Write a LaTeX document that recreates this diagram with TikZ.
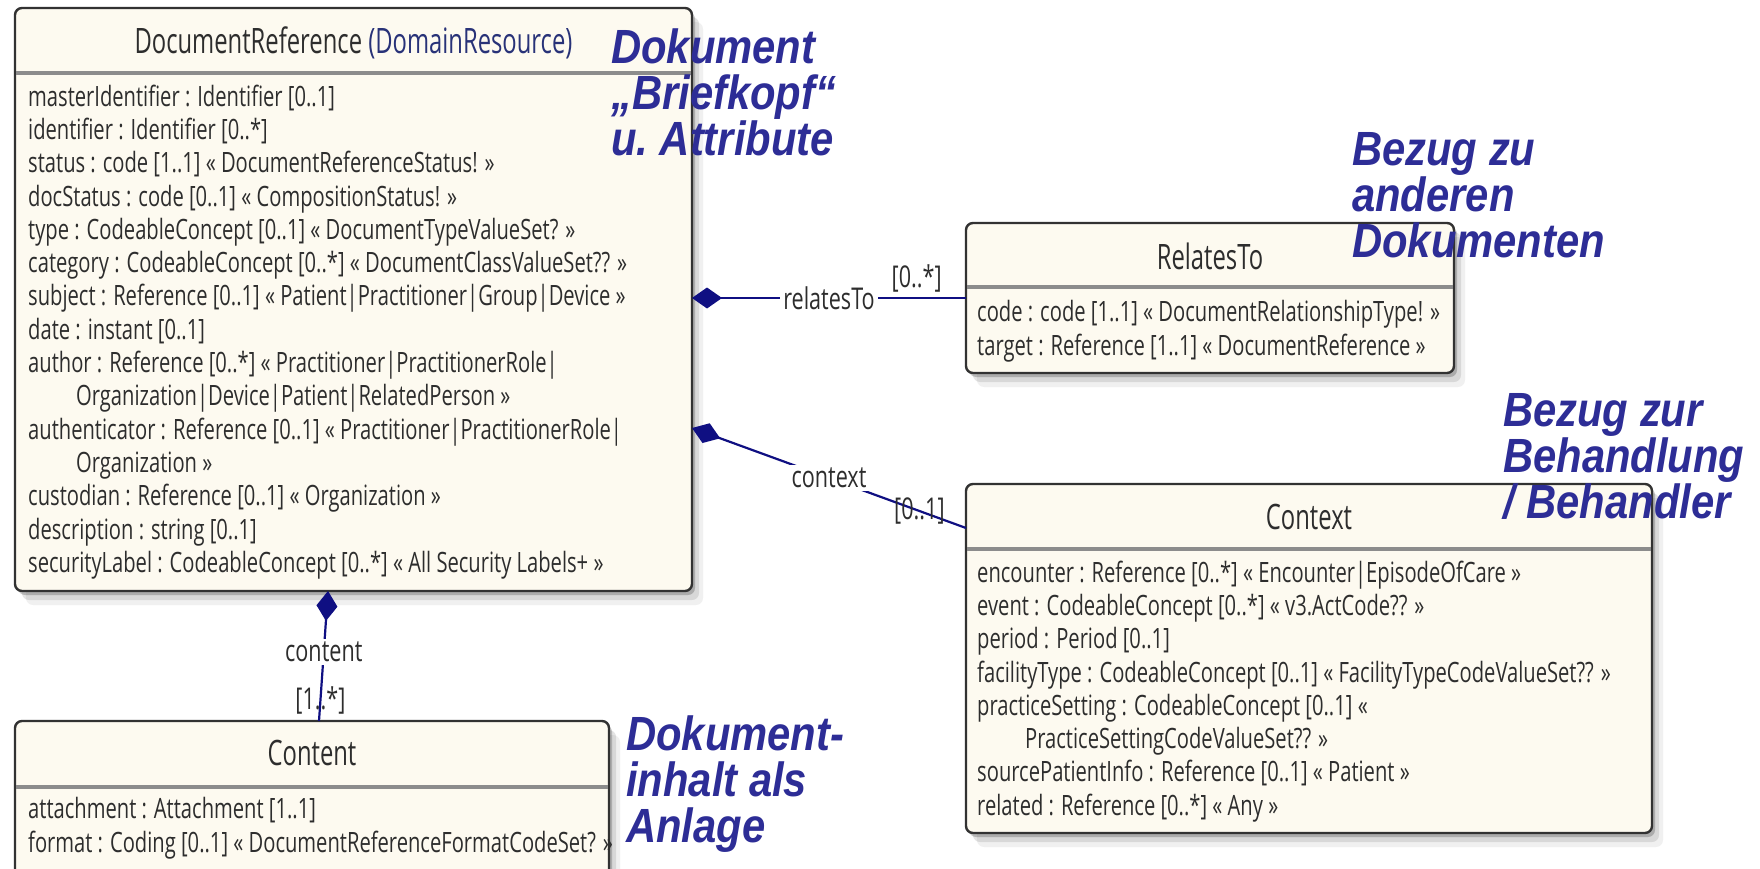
\documentclass[tikz,border=0pt]{standalone}
\usepackage{fontspec}
\usetikzlibrary{arrows.meta,calc,shadows}
\newfontfamily\umlfont[FakeStretch=0.72]{Open Sans}
\newfontfamily\titlefont[FakeStretch=0.68]{Open Sans}
\newfontfamily\notefont[FakeStretch=0.87]{Liberation Sans}
\definecolor{boxfill}{RGB}{253,250,240}
\definecolor{boxline}{RGB}{50,50,50}
\definecolor{sepgray}{RGB}{140,140,140}
\definecolor{textgray}{RGB}{45,45,45}
\definecolor{supercol}{RGB}{40,50,120}
\definecolor{assoccol}{RGB}{15,15,130}
\definecolor{notecol}{RGB}{45,45,150}
\begin{document}
\begin{tikzpicture}[
x=1pt,y=-1pt,
umlclass/.style={draw=boxline,line width=2.4pt,fill=boxfill,rounded corners=7pt,
	anchor=north west,inner sep=0pt,outer sep=0pt,
	drop shadow={shadow xshift=3pt,shadow yshift=-4pt,opacity=.3,fill=black!70},
	drop shadow={shadow xshift=7pt,shadow yshift=-9pt,opacity=.15,fill=black!70},
	drop shadow={shadow xshift=11pt,shadow yshift=-14pt,opacity=.08,fill=black!70}},
umltitle/.style={font=\titlefont\fontsize{35}{40}\selectfont,text=textgray,anchor=base,inner sep=0pt},
umlattrs/.style={font=\umlfont\fontsize{28}{33.3}\selectfont,text=textgray,align=left,
	anchor=north west,inner sep=0pt},
separator/.style={draw=sepgray,line width=3.2pt},
assoc/.style={draw=assoccol,line width=2.2pt,arrows={Diamond[length=30pt,width=21pt]-}},
rolename/.style={font=\umlfont\fontsize{30}{32}\selectfont,text=textgray,fill=white,inner sep=3pt},
multiplicity/.style={font=\umlfont\fontsize{30}{32}\selectfont,text=textgray,inner sep=1pt},
note/.style={font=\notefont\bfseries\itshape\fontsize{48}{46}\selectfont,text=notecol,
	align=left,anchor=north west,inner sep=0pt}
]
\useasboundingbox (0,0) rectangle (1760,869);
\fill[white] (0,0) rectangle (1760,869);

% classes
\node[umlclass,minimum width=677pt,minimum height=583pt] (docref) at (15,8) {};
\node[umlclass,minimum width=488pt,minimum height=150pt] (relto) at (966,223) {};
\node[umlclass,minimum width=686pt,minimum height=349pt] (ctx) at (966,484) {};
\node[umlclass,minimum width=594pt,minimum height=170pt] (content) at (15,721) {};

\draw[separator] ($(docref.north west)+(1,65)$) -- ($(docref.north east)+(-1,65)$);
\draw[separator] ($(relto.north west)+(1,64)$) -- ($(relto.north east)+(-1,64)$);
\draw[separator] ($(ctx.north west)+(1,65)$) -- ($(ctx.north east)+(-1,65)$);
\draw[separator] ($(content.north west)+(1,66)$) -- ($(content.north east)+(-1,66)$);

\node[umltitle] (docref-title) at ($(docref.north)+(0,46)$) {DocumentReference {\color{supercol}(DomainResource)}};
\node[umltitle] (relto-title) at ($(relto.north)+(0,46)$) {RelatesTo};
\node[umltitle] (ctx-title) at ($(ctx.north)+(0,45)$) {Context};
\node[umltitle] (content-title) at ($(content.north)+(0,44)$) {Content};

\node[umlattrs] (docref-attrs) at ($(docref.north west)+(13,76.5)$) {%
masterIdentifier : Identifier [0..1]\\
identifier : Identifier [0..*]\\
status : code [1..1] « DocumentReferenceStatus! »\\
docStatus : code [0..1] « CompositionStatus! »\\
type : CodeableConcept [0..1] « DocumentTypeValueSet? »\\
category : CodeableConcept [0..*] « DocumentClassValueSet?? »\\
subject : Reference [0..1] « Patient|Practitioner|Group|Device »\\
date : instant [0..1]\\
author : Reference [0..*] « Practitioner|PractitionerRole|\\
\hspace*{48pt}Organization|Device|Patient|RelatedPerson »\\
authenticator : Reference [0..1] « Practitioner|PractitionerRole|\\
\hspace*{48pt}Organization »\\
custodian : Reference [0..1] « Organization »\\
description : string [0..1]\\
securityLabel : CodeableConcept [0..*] « All Security Labels+ »};

\node[umlattrs] (relto-attrs) at ($(relto.north west)+(11,77.5)$) {%
code : code [1..1] « DocumentRelationshipType! »\\
target : Reference [1..1] « DocumentReference »};

\node[umlattrs] (ctx-attrs) at ($(ctx.north west)+(11,76.5)$) {%
encounter : Reference [0..*] « Encounter|EpisodeOfCare »\\
event : CodeableConcept [0..*] « v3.ActCode?? »\\
period : Period [0..1]\\
facilityType : CodeableConcept [0..1] « FacilityTypeCodeValueSet?? »\\
practiceSetting : CodeableConcept [0..1] «\\
\hspace*{48pt}PracticeSettingCodeValueSet?? »\\
sourcePatientInfo : Reference [0..1] « Patient »\\
related : Reference [0..*] « Any »};

\node[umlattrs] (content-attrs) at ($(content.north west)+(13,76.5)$) {%
attachment : Attachment [1..1]\\
format : Coding [0..1] « DocumentReferenceFormatCodeSet? »};

% associations
\coordinate (docref-relto) at (docref.north east |- relto.west);
\coordinate (docref-ctx) at ($(docref.north east)+(0,420)$);
\coordinate (ctx-in) at ($(ctx.north west)+(0,44)$);
\coordinate (docref-content) at ($(docref.south west)+(313,0)$);
\coordinate (content-in) at ($(content.north west)+(304,0)$);

\draw[assoc] (docref-relto) -- (relto.west)
	node[rolename,pos=.5]{relatesTo}
	node[multiplicity,pos=.82,above=4pt]{[0..*]};
\draw[assoc] (docref-ctx) -- (ctx-in)
	node[rolename,pos=.5]{context}
	node[multiplicity,pos=.83]{[0..1]};
\draw[assoc] (docref-content) -- (content-in)
	node[rolename,pos=.47]{content}
	node[multiplicity,pos=.84]{[1..*]};

% notes
\node[note] (note-docref) at (611,28.6) {Dokument\\„Briefkopf“\\u.\ Attribute};
\node[note] (note-relto) at (1352,132.6) {Bezug zu\\anderen\\Dokumenten};
\node[note] (note-ctx) at (1503,393.6) {Bezug zur\\Behandlung\\/ Behandler};
\node[note] (note-content) at (626,715.6) {Dokument-\\inhalt als\\Anlage};
\end{tikzpicture}
\end{document}
